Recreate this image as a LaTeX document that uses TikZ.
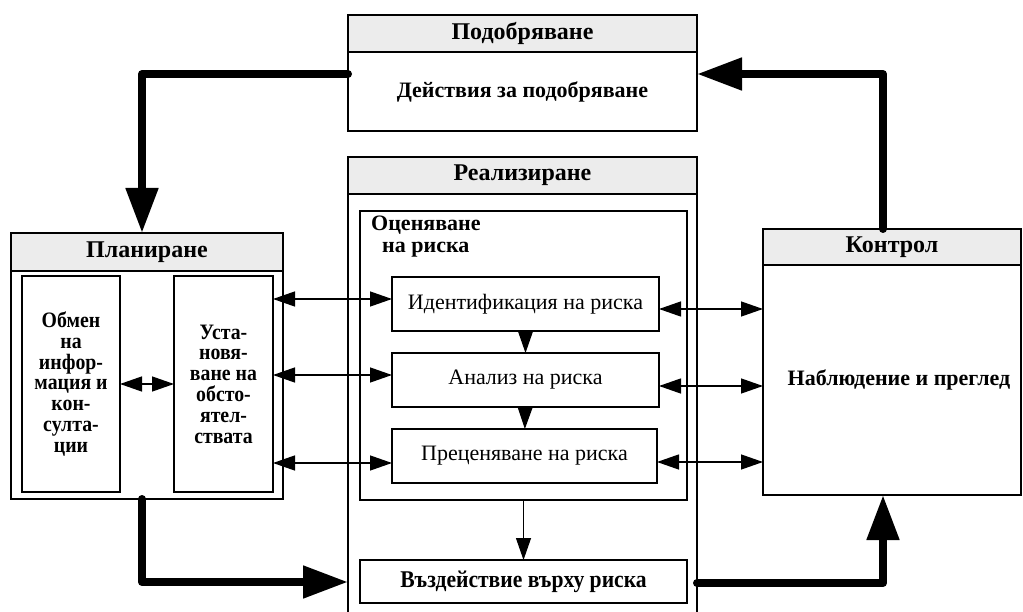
\documentclass[tikz,border=0pt]{standalone}
\usepackage{fontspec}
\setmainfont{Liberation Serif}
\newfontfamily\narrowfont{Liberation Serif}[FakeStretch=0.9]
\usetikzlibrary{arrows.meta, positioning}
\tikzset{
  head/.style={
    rectangle, draw=black, line width=1.6pt,
    fill=gray!15, inner sep=0pt, outer sep=0pt,
    anchor=north west,
    font=\fontsize{24}{26}\selectfont\bfseries
  },
  panel/.style={
    rectangle, draw=black, line width=1.6pt,
    fill=white, inner sep=0pt, outer sep=0pt,
    font=\fontsize{22}{24}\selectfont\bfseries
  },
  stage/.style={
    rectangle, draw=black, line width=1.6pt,
    inner sep=0pt, outer sep=0pt, align=center,
    font=\fontsize{22}{24}\selectfont
  },
  arrow/.style={{Triangle[length=22pt,width=15pt]}-{Triangle[length=22pt,width=15pt]}, line width=1.3pt},
  flow/.style={-{Triangle[length=22pt,width=15pt]}, line width=1.3pt},
  bigarrow/.style={-{Triangle[length=45pt,width=31pt]}, line width=8pt, line join=round, line cap=round}
}

\begin{document}
\begin{tikzpicture}[x=1pt, y=-1pt]

  \useasboundingbox (0,0) rectangle (1023,612);

  % Подобряване
  \node[head, minimum width=349pt, minimum height=37pt] (improveH) at (348,15) {Подобряване};
  \node[panel, minimum width=349pt, minimum height=79pt, below=0pt of improveH] (improve) {Действия за подобряване};

  % Реализиране
  \node[head, minimum width=349pt, minimum height=37pt] (doH) at (348,157) {Реализиране};
  \node[panel, minimum width=349pt, minimum height=430pt, below=0pt of doH] (do) {};

  \node[stage, anchor=north west, minimum width=327pt, minimum height=289pt] (assess) at (360,211) {};
  \node[anchor=north west, inner sep=0pt, align=left, font=\fontsize{22}{21.5}\selectfont\bfseries]
    (assessT) at (371,216) {Оценяване\\\hspace{11pt}на риска};

  \node[stage, anchor=north west, minimum width=267pt, minimum height=54pt] (ident) at (392,277) {Идентификация на риска};
  \node[stage, minimum width=267pt, minimum height=54pt, below=22pt of ident] (analysis) {Анализ на риска};
  \node[stage, minimum width=265pt, minimum height=54pt, below=22pt of analysis, xshift=-1pt] (evaluate) {Преценяване на риска};

  \node[stage, minimum width=327pt, minimum height=43pt, below=60pt of assess,
    font=\fontsize{24}{26}\narrowfont\bfseries] (treat) {Въздействие върху риска};

  % Планиране
  \node[head, minimum width=272pt, minimum height=38pt] (planH) at (11,233) {Планиране};
  \node[panel, minimum width=272pt, minimum height=228pt, below=0pt of planH] (plan) {};
  \node[stage, anchor=north west, minimum width=98pt, minimum height=216pt,
    font=\fontsize{22}{20.8}\narrowfont\bfseries] (consult) at (22,276)
    {Обмен\\на\\инфор-\\мация и\\кон-\\султа-\\ции};
  \node[stage, anchor=north west, minimum width=99pt, minimum height=216pt,
    font=\fontsize{22}{20.8}\narrowfont\bfseries] (context) at (174,276)
    {Уста-\\новя-\\ване на\\обсто-\\ятел-\\ствата};

  % Контрол
  \node[head, minimum width=258pt, minimum height=36pt] (checkH) at (763,229) {Контрол};
  \node[panel, minimum width=258pt, minimum height=230pt, below=0pt of checkH] (check) {\hspace{14pt}Наблюдение и преглед};

  % thin arrows
  \draw[arrow] (consult.east) -- (context.west);
  \draw[arrow] (context.east |- 0,299) -- (ident.west |- 0,299);
  \draw[arrow] (context.east |- 0,375) -- (analysis.west |- 0,375);
  \draw[arrow] (context.east |- 0,463) -- (evaluate.west |- 0,463);
  \draw[arrow] (ident.east |- 0,309) -- (check.west |- 0,309);
  \draw[arrow] (analysis.east |- 0,386) -- (check.west |- 0,386);
  \draw[arrow] (evaluate.east |- 0,462) -- (check.west |- 0,462);
  \draw[flow] (ident) -- (analysis);
  \draw[flow] (analysis) -- (evaluate);
  \draw[flow] (assess) -- (treat);

  % thick loop
  \draw[bigarrow] (improve.west |- 0,74) -| (planH.north -| 142,0);
  \draw[bigarrow] (plan.south -| 142,0) |- (do.west |- 0,582);
  \draw[bigarrow] (do.east |- 0,583) -| (check.south -| 883,0);
  \draw[bigarrow] (checkH.north -| 883,0) |- (improve.east |- 0,74);

\end{tikzpicture}
\end{document}
